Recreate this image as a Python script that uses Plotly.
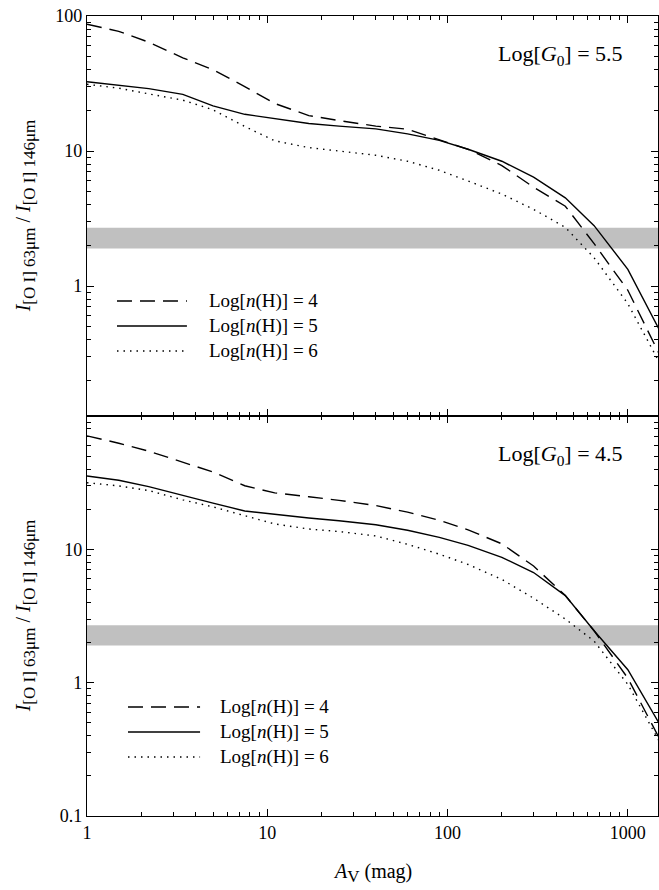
import numpy as np
import plotly.graph_objects as go

# ---------------- data ----------------
av = [1, 1.5, 2.2, 3.4, 5, 7.5, 11, 17, 25, 40, 60, 90, 130, 200, 300, 450, 650, 1000, 1500]

# Log[G0] = 5.5 (top panel)
top_n4 = [87, 77, 64, 49, 40, 30, 22.5, 18.3, 16.8, 15.3, 14.5, 12.1, 10.3, 7.8, 5.4, 3.9, 2.06, 0.93, 0.31]
top_n5 = [32.6, 30.7, 29, 26.3, 21.6, 18.7, 17.4, 16, 15.3, 14.6, 13.4, 12, 10.3, 8.4, 6.4, 4.5, 2.8, 1.33, 0.47]
top_n6 = [31.2, 29.2, 26.5, 23.8, 20.2, 15.2, 11.9, 10.6, 10, 9.3, 8.4, 7.2, 6, 4.8, 3.7, 2.72, 1.62, 0.74, 0.27]

# Log[G0] = 4.5 (bottom panel)
bot_n4 = [71, 62.5, 54.5, 45, 38, 30, 26.5, 24.8, 23.3, 21.3, 19, 16.5, 14, 11, 7.5, 4.5, 2.45, 1.08, 0.38]
bot_n5 = [35.5, 33, 29.5, 25.3, 22.2, 19.4, 18.3, 17.2, 16.4, 15.3, 13.9, 12.3, 10.7, 8.7, 6.7, 4.5, 2.45, 1.25, 0.49]
bot_n6 = [31.6, 29.9, 27.6, 23.5, 20.8, 17.8, 15.5, 14.2, 13.6, 12.6, 10.9, 9.2, 7.7, 5.95, 4.3, 3.0, 2.05, 0.97, 0.36]

band_x = [0.5, 3000]
band_low = 1.9
band_high = 2.7

series_labels = ["Log[<i>n</i>(H)] = 4", "Log[<i>n</i>(H)] = 5", "Log[<i>n</i>(H)] = 6"]
panel_labels = ["Log[<i>G</i><sub>0</sub>] = 5.5", "Log[<i>G</i><sub>0</sub>] = 4.5"]
y_title = ("<i>I</i><sub><span style='font-size:17px'>[O I] 63μm</span></sub> / "
           "<i>I</i><sub><span style='font-size:17px'>[O I] 146μm</span></sub>")
x_title = "<i>A</i><sub><span style='font-size:17px'>V</span></sub> (mag)"

x_tickvals = [1, 10, 100, 1000]
x_ticktext = ["1", "10", "100", "1000"]
ytop_tickvals = [1, 10, 100]
ytop_ticktext = ["1", "10", "100"]
ybot_tickvals = [0.1, 1, 10]
ybot_ticktext = ["0.1", "1", "10"]

# ---------------- styles ----------------
FONT = "Liberation Serif"
styles = [dict(color="black", width=1.4, dash="15px,8px"),
          dict(color="black", width=1.4, dash="solid"),
          dict(color="black", width=1.4, dash="1.5px,5px")]

fig = go.Figure()

panels = [("x", "y", [top_n4, top_n5, top_n6]), ("x2", "y2", [bot_n4, bot_n5, bot_n6])]
for xa, ya, sers in panels:
    fig.add_trace(go.Scatter(x=[band_x[0], band_x[1], band_x[1], band_x[0], band_x[0]],
                             y=[band_low, band_low, band_high, band_high, band_low],
                             fill="toself", fillcolor="#c0c0c0", mode="none",
                             xaxis=xa, yaxis=ya, showlegend=False, hoverinfo="skip"))
    for s, st in zip(sers, styles):
        fig.add_trace(go.Scatter(x=av, y=s, mode="lines", line=st,
                                 xaxis=xa, yaxis=ya, showlegend=False))

def minor_vals(lo, hi):
    out = []
    for d in range(lo, hi):
        for m in range(2, 10):
            out.append(m * 10 ** d)
    return out

def minor(lo, hi):
    return dict(ticks="inside", ticklen=4, tickcolor="black", tickwidth=1, tickmode="array",
                tickvals=minor_vals(lo, hi), showgrid=False)

axis_common = dict(type="log", showline=True, linecolor="black", linewidth=1.2,
                   mirror="allticks", ticks="inside", ticklen=7, tickwidth=1, tickcolor="black",
                   showgrid=False, zeroline=False, automargin=False,
                   tickfont=dict(family=FONT, size=18, color="black"))

xr = [0, np.log10(1470)]
fig.update_layout(
    width=659, height=890,
    margin=dict(l=87, r=1, t=16, b=74),
    paper_bgcolor="white", plot_bgcolor="white",
    font=dict(family=FONT, size=18, color="black"),
    xaxis=dict(axis_common, domain=[0, 1], anchor="y", range=xr, tickvals=x_tickvals, ticktext=x_ticktext,
               showticklabels=False, minor=minor(0, 4)),
    xaxis2=dict(axis_common, domain=[0, 1], anchor="y2", range=xr, tickvals=x_tickvals, ticktext=x_ticktext,
                minor=minor(0, 4)),
    yaxis=dict(axis_common, domain=[0.5, 1], anchor="x", range=[np.log10(0.109), 2],
               tickvals=ytop_tickvals, ticktext=ytop_ticktext, minor=minor(-1, 2)),
    yaxis2=dict(axis_common, domain=[0, 0.5], anchor="x2", range=[-1, 2],
                tickvals=ybot_tickvals, ticktext=ybot_ticktext, minor=minor(-1, 2)),
)

# axis titles
for ya in ["y", "y2"]:
    fig.add_annotation(text=y_title, xref="paper", yref=ya + " domain", x=-0.108, y=0.5,
                       xanchor="center", yanchor="middle", textangle=-90, showarrow=False,
                       font=dict(family=FONT, size=20, color="black"))
fig.add_annotation(text=x_title, xref="x2 domain", yref="paper", x=0.5, y=-0.071,
                   xanchor="center", yanchor="middle", showarrow=False,
                   font=dict(family=FONT, size=20, color="black"))

# panel labels
for (xa, ya), lab in zip([("x", "y"), ("x2", "y2")], panel_labels):
    fig.add_annotation(text=lab, xref=xa + " domain", yref=ya + " domain", x=0.942, y=0.9025,
                       xanchor="right", yanchor="middle", showarrow=False,
                       font=dict(family=FONT, size=22, color="black"))

# hand-drawn legends
legend_geo = [("x", "y", 0.0525, 0.175, 0.21, [0.2875, 0.225, 0.1625]),
              ("x2", "y2", 0.0718, 0.198, 0.229, [0.2725, 0.21, 0.1475])]
for xa, ya, x0, x1, xt, rows in legend_geo:
    for st, lab, yy in zip(styles, series_labels, rows):
        fig.add_shape(type="line", xref=xa + " domain", yref=ya + " domain",
                      x0=x0, x1=x1, y0=yy, y1=yy, line=st)
        fig.add_annotation(text=lab, xref=xa + " domain", yref=ya + " domain", x=xt, y=yy,
                           xanchor="left", yanchor="middle", showarrow=False,
                           font=dict(family=FONT, size=19, color="black"))

fig.write_html("out.html", config={"displayModeBar": False},
               post_script="document.body.style.margin='0px';document.body.style.overflow='hidden';")
